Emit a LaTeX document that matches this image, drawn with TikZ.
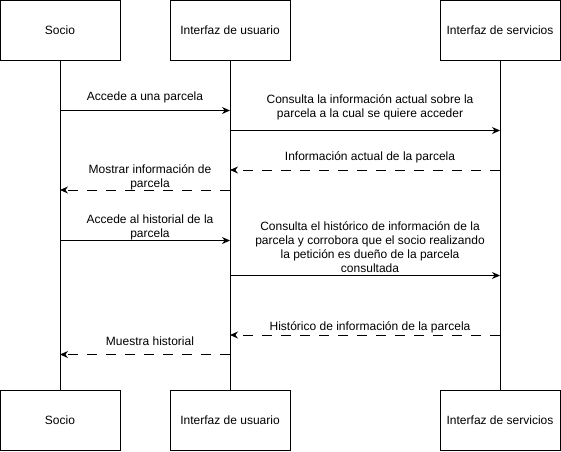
\documentclass[tikz,border=0pt]{standalone}
\usepackage{fontspec}
\setmainfont{Liberation Sans}
\usetikzlibrary{arrows.meta}

\begin{document}
\begin{tikzpicture}[x=1pt, y=-1pt, line width=1pt, >={Stealth[length=8pt,width=7pt]},
        font=\fontsize{12}{14}\selectfont]

        \def\boxw{120}      % width of the actor boxes
        \def\boxh{60}       % height of the actor boxes
        \def\ytop{30}       % centre of the upper boxes
        \def\ybot{420}      % centre of the lower boxes
        \tikzstyle{actor}=[rectangle,draw=black,minimum width=\boxw pt,minimum height=\boxh pt,inner sep=0pt]
        \tikzstyle{msg}=[align=center,inner sep=0pt]
        \tikzstyle{reply}=[->,dash pattern=on 10pt off 9pt]

        \useasboundingbox (0,0) rectangle (561,451);

        % Draw the actors on top and bottom with their lifelines
            \foreach \n/\x/\name in {1/60/Socio,2/230/Interfaz de usuario,3/500/Interfaz de servicios}{
                \node[actor] (top-\n) at (\x,\ytop) {\name};
                \node[actor] (bot-\n) at (\x,\ybot) {\name};
                \draw (top-\n) -- (bot-\n);
            }
        % Points on the lifelines for every message
            \foreach \m/\y in {1/110.5,2/130.5,3/170,4/190,5/240.5,6/275.5,7/335,8/354.5}{
                \foreach \n/\x in {1/60,2/230,3/500}{
                    \coordinate (p\m-\n) at (\x,\y);
                }}

        % Messages
                \draw[->] (p1-1) -- (p1-2);
                \draw[->] (p2-2) -- (p2-3);
                \draw[reply] (p3-3) -- (p3-2);
                \draw[reply] (p4-2) -- (p4-1);
                \draw[->] (p5-1) -- (p5-2);
                \draw[->] (p6-2) -- (p6-3);
                \draw[reply] (p7-3) -- (p7-2);
                \draw[reply] (p8-2) -- (p8-1);

        % Annotate the messages
                \node[msg] (l1) at (145,97) {Accede a una parcela};
                \node[msg] (l2) at (370,107.5) {Consulta la información actual sobre la\\parcela a la cual se quiere acceder};
                \node[msg] (l3) at (370,157) {Información actual de la parcela};
                \node[msg] (l4) at (150,177) {Mostrar información de\\parcela};
                \node[msg] (l5) at (150,227.5) {Accede al historial de la\\parcela};
                \node[msg] (l6) at (370,247.5) {Consulta el histórico de información de la\\parcela y corrobora que el socio realizando\\la petición es dueño de la parcela\\consultada};
                \node[msg] (l7) at (370,327) {Histórico de información de la parcela};
                \node[msg] (l8) at (150,341) {Muestra historial};

        \end{tikzpicture}
\end{document}
